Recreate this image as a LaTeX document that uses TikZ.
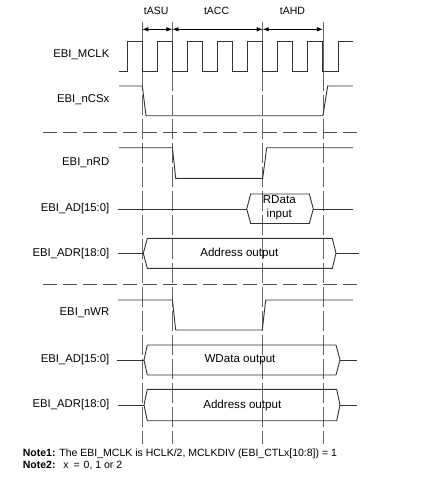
\documentclass[tikz,border=0pt]{standalone}
\usepackage{fontspec}
\setmainfont{Liberation Sans}
\usetikzlibrary{arrows.meta}
\begin{document}
\begin{tikzpicture}[x=1pt,y=-1pt,
  sig/.style={draw=black!80,line width=0.9pt,line join=miter},
  sep/.style={draw=black!70,line width=0.8pt,dash pattern=on 14pt off 6pt},
  vguide/.style={draw=black!60,line width=0.7pt,dash pattern=on 20pt off 4pt},
  vsolid/.style={draw=black!60,line width=0.7pt},
  lbl/.style={anchor=east,inner sep=0pt,font=\fontsize{11.3}{13}\selectfont},
  tlbl/.style={inner sep=0pt,font=\fontsize{10.5}{12}\selectfont},
  btxt/.style={inner sep=0pt,align=center,font=\fontsize{11.6}{14.3}\selectfont},
  note/.style={anchor=west,inner sep=0pt,font=\fontsize{10.5}{12}\selectfont},
  tarrow/.style={draw=black,line width=0.7pt,{Latex[length=6pt,width=4.5pt]}-{Latex[length=6pt,width=4.5pt]}}
]
\useasboundingbox (0,0) rectangle (424,490);
\fill[white] (0,0) rectangle (424,490);

% guide lines
\foreach \n/\gx in {g1/142.3,g2/172.4,g3/262.7,g4/322.9}{
  \coordinate (\n top) at (\gx,21.5);
  \coordinate (\n mid) at (\gx,71);
  \coordinate (\n bot) at (\gx,444);
  \draw[vsolid] (\n top) -- (\n mid);
  \draw[vguide] (\n mid) -- (\n bot);
}

% timing arrows
\coordinate (a1) at (142.3,29.3);
\coordinate (a2) at (172.4,29.3);
\coordinate (a3) at (262.7,29.3);
\coordinate (a4) at (322.9,29.3);
\draw[tarrow] (a1) -- (a2);
\draw[tarrow] (a2) -- (a3);
\draw[tarrow] (a3) -- (a4);
\node[tlbl] (tasu) at (156.2,11) {tASU};
\node[tlbl] (tacc) at (216.6,11) {tACC};
\node[tlbl] (tahd) at (292.5,11) {tAHD};

% clock
\draw[sig] (119,71)
  \foreach \k in {0,...,6}{
    -- ({127.3+30.1*\k},71) -- ({127.3+30.1*\k},41)
    -- ({142.3+30.1*\k},41) -- ({142.3+30.1*\k},71)
  }
  -- (338,71) -- (338,41) -- (353,41);

% nCSx
\draw[sig] (119,86) -- (142.3,86) -- (146,115.7) -- (322.9,115.7) -- (327.7,86) -- (353,86);

% separators
\coordinate (s1l) at (43,132.3); \coordinate (s1r) at (362,132.3);
\coordinate (s2l) at (43,284);   \coordinate (s2r) at (362,284);
\draw[sep] (s1l) -- (s1r);
\draw[sep] (s2l) -- (s2r);

% nRD
\draw[sig] (119,147.7) -- (172.4,147.7) -- (175.7,178.3) -- (262.7,178.3) -- (266.7,147.7) -- (353,147.7);

% AD read
\draw[sig] (118,209) -- (246.7,209);
\draw[sig] (246.7,209) -- (250.7,194) -- (309.3,194) -- (313.3,209) -- (309.3,223.5) -- (250.7,223.5) -- cycle;
\draw[sig] (313.3,209) -- (353,209);
\node[btxt] (rdata) at (279.3,207.5) {RData\\input};

% ADR read
\draw[sig] (118,253.3) -- (143.3,253.3);
\draw[sig] (143.3,253.3) -- (147.3,238.3) -- (332.3,238.3) -- (336,253.3) -- (332.3,268.3) -- (147.3,268.3) -- cycle;
\draw[sig] (336,253.3) -- (359.3,253.3);
\node[btxt] (addr1) at (239.3,253.3) {Address output};

% nWR
\draw[sig] (118,300) -- (172.4,300) -- (175.7,330) -- (262.3,330) -- (265.7,300) -- (353,300);

% AD write
\draw[sig] (117,360) -- (144,360);
\draw[sig] (144,360) -- (147.3,345) -- (336,345) -- (340,360) -- (336,375) -- (147.3,375) -- cycle;
\draw[sig] (340,360) -- (357,360);
\node[btxt] (wdata) at (240,359.3) {WData output};

% ADR write
\draw[sig] (118,405) -- (144,405);
\draw[sig] (144,405) -- (147.3,389.3) -- (336.7,389.3) -- (340,405) -- (336.7,420.7) -- (147.3,420.7) -- cycle;
\draw[sig] (340,405) -- (357,405);
\node[btxt] (addr2) at (242.3,405) {Address output};

% signal labels
\node[lbl] (l1) at (109.5,54.3) {EBI\_MCLK};
\node[lbl] (l2) at (109.5,100) {EBI\_nCSx};
\node[lbl] (l3) at (109.5,162.7) {EBI\_nRD};
\node[lbl] (l4) at (109.5,209) {EBI\_AD[15:0]};
\node[lbl] (l5) at (109.5,253.3) {EBI\_ADR[18:0]};
\node[lbl] (l6) at (109.5,312.7) {EBI\_nWR};
\node[lbl] (l7) at (109.5,359.3) {EBI\_AD[15:0]};
\node[lbl] (l8) at (109.5,405) {EBI\_ADR[18:0]};

% notes
\node[note] (n1) at (22.7,453.3) {\textbf{Note1:} The EBI\_MCLK is HCLK/2, MCLKDIV (EBI\_CTLx[10:8]) = 1};
\node[note] (n2) at (22.7,465) {\textbf{Note2:}\hspace{4pt} x\hspace{2pt} = \hspace{1pt}0, 1 or 2};
\end{tikzpicture}
\end{document}
